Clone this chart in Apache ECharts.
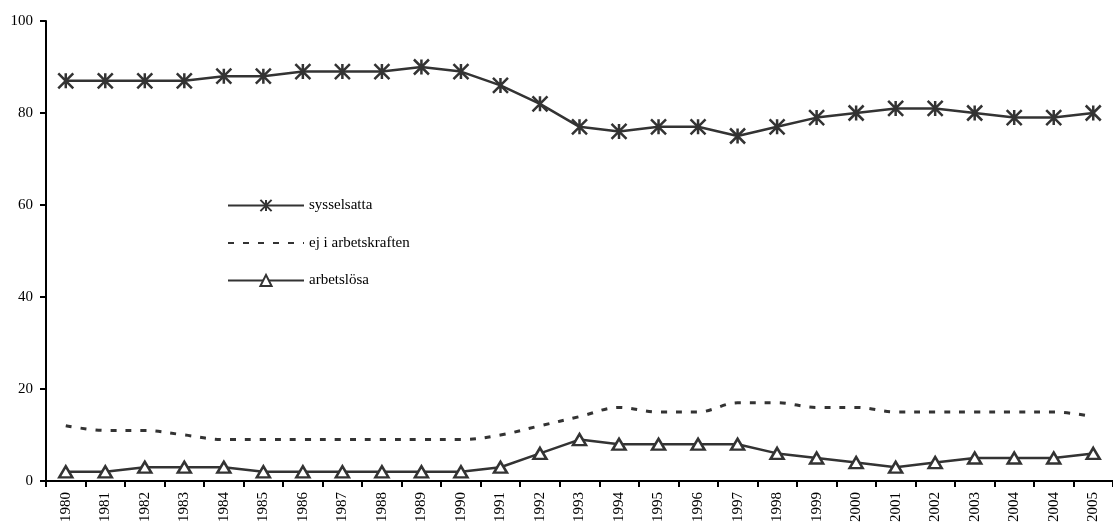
<!DOCTYPE html>
<html>
<head>
<meta charset="utf-8">
<script src="https://cdn.jsdelivr.net/npm/echarts@6/dist/echarts.min.js"></script>
<style>html,body{margin:0;padding:0;background:#fff;}#c{width:1113px;height:525px;}</style>
</head>
<body>
<div id="c"></div>
<script>
var years = ['1980','1981','1982','1983','1984','1985','1986','1987','1988','1989','1990','1991','1992','1993','1994','1995','1996','1997','1998','1999','2000','2001','2002','2003','2004','2004','2005'];
var sysselsatta = [87,87,87,87,88,88,89,89,89,90,89,86,82,77,76,77,77,75,77,79,80,81,81,80,79,79,80];
var ejArbetskraften = [12,11,11,10,9,9,9,9,9,9,9,10,12,14,16,15,15,17,17,16,16,15,15,15,15,15,14];
var arbetslosa = [2,2,3,3,3,2,2,2,2,2,2,3,6,9,8,8,8,8,6,5,4,3,4,5,5,5,6];
var yTicks = [0,20,40,60,80,100];

var serif = 'Liberation Serif';
var col = '#333333';
var chart = echarts.init(document.getElementById('c'));
chart.setOption({
  backgroundColor: '#fff',
  animation: false,
  grid: {left: 46, top: 21, width: 1076, height: 461},
  legend: {
    orient: 'vertical', left: 222, top: 193,
    itemWidth: 76, itemHeight: 14, itemGap: 22.5,
    textStyle: {fontFamily: serif, fontSize: 15, color: '#000'},
    data: [
      'sysselsatta',
      {name: 'ej i arbetskraften', itemStyle: {opacity: 0}},
      'arbetslösa'
    ]
  },
  xAxis: {
    type: 'category', data: years, boundaryGap: true,
    axisLine: {lineStyle: {color: '#000', width: 2}},
    axisTick: {show: true, length: 6, lineStyle: {color: '#000', width: 2}},
    axisLabel: {rotate: 90, interval: 0, margin: 11, fontFamily: serif, fontSize: 15, color: '#000'}
  },
  yAxis: {
    type: 'value', min: yTicks[0], max: yTicks[yTicks.length-1], interval: 20,
    splitLine: {show: false},
    axisLine: {show: true, lineStyle: {color: '#000', width: 2}},
    axisTick: {show: true, length: 6, lineStyle: {color: '#000', width: 2}},
    axisLabel: {margin: 13, fontFamily: serif, fontSize: 15, color: '#000'}
  },
  series: [
    {
      name: 'sysselsatta', type: 'line', data: sysselsatta,
      symbol: 'path://M0,0L10,10M10,0L0,10M5,0L5,10', symbolSize: 15,
      lineStyle: {color: col, width: 2.5},
      itemStyle: {color: col, borderColor: col, borderWidth: 2.5}
    },
    {
      name: 'ej i arbetskraften', type: 'line', data: ejArbetskraften,
      smooth: 0.35, symbol: 'none', showSymbol: false,
      lineStyle: {color: col, width: 3, type: [6, 9]},
      itemStyle: {color: col}
    },
    {
      name: 'arbetslösa', type: 'line', data: arbetslosa,
      symbol: 'triangle', symbolSize: [13, 11],
      lineStyle: {color: col, width: 2.5},
      itemStyle: {color: '#fff', borderColor: col, borderWidth: 2.5}
    }
  ]
});
</script>
</body>
</html>
